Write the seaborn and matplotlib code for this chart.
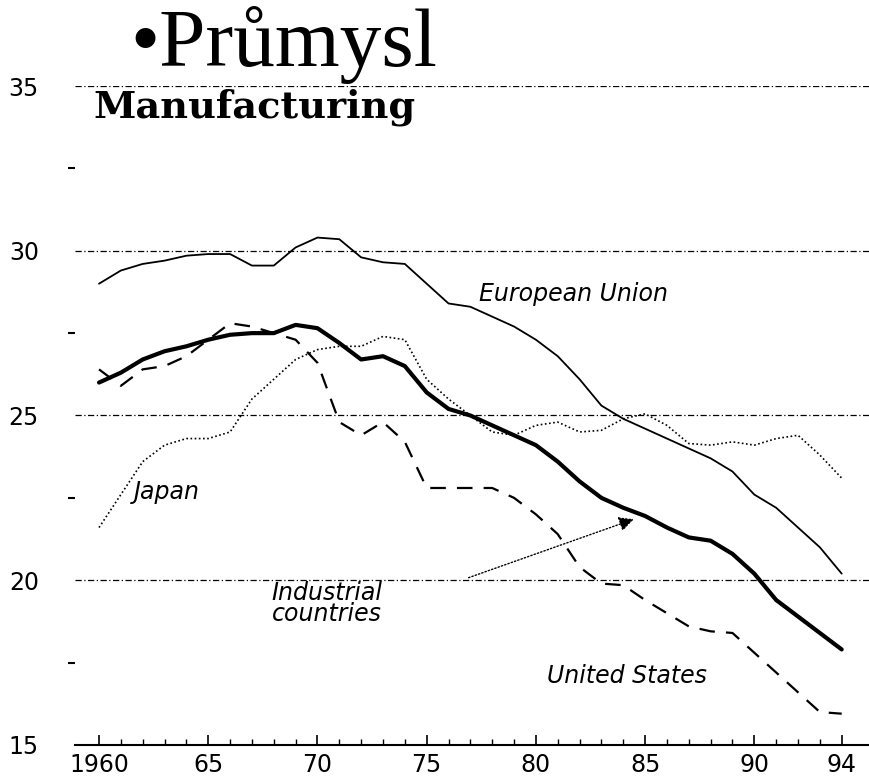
# Manufacturing share of employment, 1960-94 (recreated chart)

import matplotlib
matplotlib.use("Agg")
import matplotlib.pyplot as plt
import seaborn as sns

# data (share, %)
years = list(range(1960, 1995))

eu = [29.0, 29.4, 29.6, 29.7, 29.85, 29.9, 29.9, 29.55, 29.55, 30.1,
      30.4, 30.35, 29.8, 29.65, 29.6, 29.0, 28.4, 28.3, 28.0, 27.7,
      27.3, 26.8, 26.1, 25.3, 24.9, 24.6, 24.3, 24.0, 23.7, 23.3,
      22.6, 22.2, 21.6, 21.0, 20.2]

industrial = [26.0, 26.3, 26.7, 26.95, 27.1, 27.3, 27.45, 27.5, 27.5, 27.75,
              27.65, 27.2, 26.7, 26.8, 26.5, 25.7, 25.2, 25.0, 24.7, 24.4,
              24.1, 23.6, 23.0, 22.5, 22.2, 21.95, 21.6, 21.3, 21.2, 20.8,
              20.2, 19.4, 18.9, 18.4, 17.9]

japan = [21.6, 22.6, 23.6, 24.1, 24.3, 24.3, 24.5, 25.5, 26.1, 26.7,
         27.0, 27.1, 27.1, 27.4, 27.3, 26.1, 25.5, 25.0, 24.5, 24.4,
         24.7, 24.8, 24.5, 24.55, 24.9, 25.05, 24.7, 24.15, 24.1, 24.2,
         24.1, 24.3, 24.4, 23.8, 23.1]

us = [26.4, 25.9, 26.4, 26.5, 26.8, 27.3, 27.8, 27.7, 27.5, 27.3,
      26.6, 24.8, 24.4, 24.8, 24.2, 22.8, 22.8, 22.8, 22.8, 22.5,
      22.0, 21.4, 20.4, 19.9, 19.85, 19.4, 19.0, 18.6, 18.45, 18.4,
      17.8, 17.2, 16.6, 16.0, 15.95]

x_ticks = [1960, 1965, 1970, 1975, 1980, 1985, 1990, 1994]
x_labels = ["1960", "65", "70", "75", "80", "85", "90", "94"]
y_ticks = [15, 20, 25, 30, 35]

sns.set_style("white")
plt.rcParams['font.family'] = ['DejaVu Sans']
plt.rcParams['text.color'] = 'black'
plt.rcParams['xtick.color'] = 'black'
plt.rcParams['ytick.color'] = 'black'
plt.rcParams['xtick.labelcolor'] = 'black'
plt.rcParams['ytick.labelcolor'] = 'black'

fig = plt.figure(figsize=(8.69, 7.82), dpi=100)
ax = fig.add_axes([75 / 869, 37 / 782, 794 / 869, 659 / 782])

# gridlines (dash-dot, like the scan)
for v in y_ticks[1:]:
    ax.axhline(v, color="black", lw=0.9, ls=(0, (5, 2, 1, 2)), zorder=1)

# the four series
sns.lineplot(x=years, y=eu, ax=ax, color="black", lw=1.3)
sns.lineplot(x=years, y=japan, ax=ax, color="black", lw=1.2, ls=(0, (1, 1.5)))
sns.lineplot(x=years, y=industrial, ax=ax, color="black", lw=3.0)
sns.lineplot(x=years, y=us, ax=ax, color="black", lw=1.6, ls=(0, (7, 5)))

ax.set_xlim(1958.9, 1995.25)
ax.set_ylim(15, 35)

ax.set_xticks(x_ticks)
ax.set_xticklabels(x_labels, fontsize=17)
ax.set_xticks(years, minor=True)
ax.set_yticks(y_ticks)
ax.set_yticklabels([str(v) for v in y_ticks], fontsize=17)
ax.set_yticks([17.5, 22.5, 27.5, 32.5], minor=True)

ax.tick_params(axis="x", which="major", bottom=True, direction="in",
               length=7, width=1.2, pad=6)
ax.tick_params(axis="x", which="minor", bottom=True, direction="in",
               length=4, width=1)
ax.tick_params(axis="y", which="major", left=True, length=0, pad=26)
ax.tick_params(axis="y", which="minor", left=True, direction="out",
               length=5, width=1.5)

for side in ["top", "right", "left"]:
    ax.spines[side].set_visible(False)
ax.spines["bottom"].set_linewidth(1.5)
ax.spines["bottom"].set_color("black")
ax.set_xlabel("")
ax.set_ylabel("")

# series labels
lab = dict(fontsize=17, style="italic", color="black")
ax.text(1977.4, 28.7, "European Union", va="center", ha="left", **lab)
ax.text(1961.6, 22.67, "Japan", va="center", ha="left", **lab)
ax.text(1967.9, 19.3, "Industrial\ncountries", va="center", ha="left",
        linespacing=0.85, **lab)
ax.text(1980.5, 17.1, "United States", va="center", ha="left", **lab)

ax.annotate("", xy=(1984.6, 21.88), xytext=(1976.8, 20.05),
            arrowprops=dict(arrowstyle="-|>", color="black", lw=1,
                            ls=(0, (1, 1.5)), mutation_scale=22))

# headings
fig.text(130 / 869, 1 - 66 / 782, "\u2022Průmysl", fontsize=60, color="black",
         family=["Liberation Serif", "DejaVu Serif"], va="baseline", ha="left")
fig.text(93 / 869, 1 - 118 / 782, "Manufacturing", fontsize=27.5, color="black",
         family=["DejaVu Serif"], weight="bold", va="baseline", ha="left")

fig.savefig("out.png", dpi=100)
